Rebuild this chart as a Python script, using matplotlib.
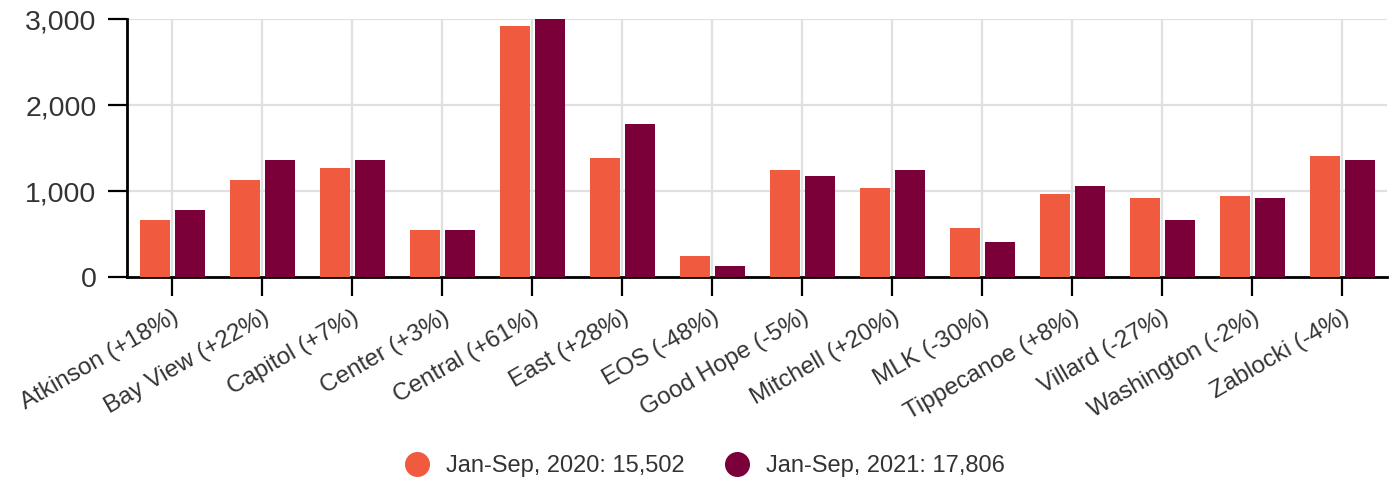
import matplotlib.pyplot as plt
from matplotlib.lines import Line2D
import numpy as np

plt.rcParams['font.family'] = ['Liberation Sans', 'DejaVu Sans']

# schools, with the change label shown under each group
labels = ["Atkinson (+18%)", "Bay View (+22%)", "Capitol (+7%)", "Center (+3%)",
          "Central (+61%)", "East (+28%)", "EOS (-48%)", "Good Hope (-5%)",
          "Mitchell (+20%)", "MLK (-30%)", "Tippecanoe (+8%)", "Villard (-27%)",
          "Washington (-2%)", "Zablocki (-4%)"]
y2020 = [660, 1125, 1265, 543, 2918, 1381, 241, 1242, 1032, 567, 962, 916, 939, 1405]
y2021 = [776, 1358, 1358, 543, 3000, 1777, 124, 1172, 1242, 404, 1056, 660, 916, 1358]
series_names = ["Jan-Sep, 2020: 15,502", "Jan-Sep, 2021: 17,806"]
yticks = [0, 1000, 2000, 3000]

c2020 = "#F05B40"
c2021 = "#7B0039"
txt = "#333333"

fig = plt.figure(figsize=(13.98, 4.84), dpi=100)
ax = fig.add_axes([0.0908, 0.4277, 0.9013, 0.5330])

x = np.arange(len(labels))
w = 0.34
ax.bar(x - 0.19, y2020, width=w, color=c2020, zorder=3)
ax.bar(x + 0.20, y2021, width=w, color=c2021, zorder=3)

ax.set_xlim(-0.5, len(labels) - 0.5)
ax.set_ylim(0, 3000)
ax.set_yticks(yticks)
ax.set_yticklabels([f"{v:,}" for v in yticks], fontsize=20.5, color=txt)
ax.set_xticks(x)
ax.set_xticklabels(labels, rotation=30, ha='right', rotation_mode='anchor',
                   fontsize=17.5, color=txt)

ax.grid(True, color="#e0e0e0", linewidth=1.6, zorder=0)
ax.set_axisbelow(True)
for s in ['top', 'right']:
    ax.spines[s].set_visible(False)
for s in ['left', 'bottom']:
    ax.spines[s].set_color('black')
    ax.spines[s].set_linewidth(2)
ax.tick_params(axis='both', length=14, width=1.6, color='black', pad=7)
ax.tick_params(axis='y', pad=8)

handles = [Line2D([], [], marker='o', linestyle='', markersize=17, color=c2020),
           Line2D([], [], marker='o', linestyle='', markersize=17, color=c2021)]
fig.legend(handles, series_names, loc='center', bbox_to_anchor=(0.5, 0.037),
           ncol=2, frameon=False, fontsize=17, handletextpad=0.25,
           columnspacing=1.2, labelcolor=txt)

fig.savefig("out.png", dpi=100)
